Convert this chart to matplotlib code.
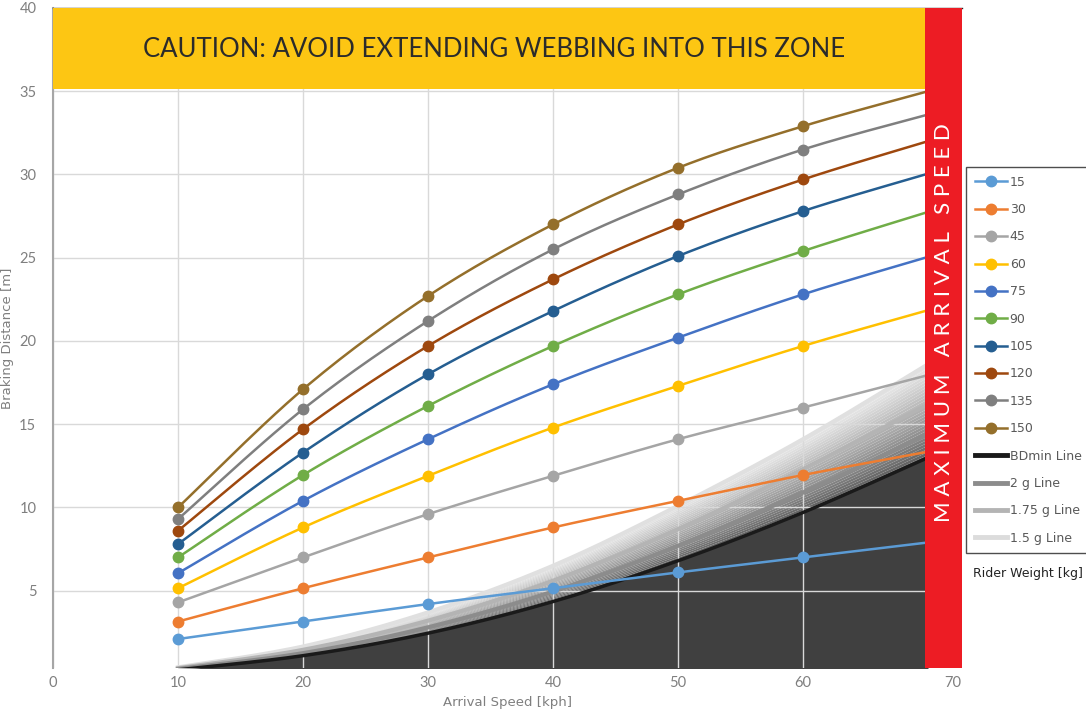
import matplotlib
matplotlib.use('Agg')
import matplotlib.pyplot as plt
import numpy as np

# dane
speeds = [10, 20, 30, 40, 50, 60, 70]
weights = ['15', '30', '45', '60', '75', '90', '105', '120', '135', '150']
w15 = [2.1, 3.15, 4.2, 5.15, 6.1, 7.0, 7.9]
w30 = [3.15, 5.15, 7.0, 8.8, 10.4, 11.95, 13.35]
w45 = [4.3, 7.0, 9.6, 11.9, 14.1, 16.0, 17.95]
w60 = [5.15, 8.8, 11.9, 14.8, 17.3, 19.7, 21.85]
w75 = [6.05, 10.4, 14.1, 17.4, 20.2, 22.8, 25.05]
w90 = [7.0, 11.95, 16.1, 19.7, 22.8, 25.4, 27.75]
w105 = [7.8, 13.3, 18.0, 21.8, 25.1, 27.8, 30.05]
w120 = [8.6, 14.7, 19.7, 23.7, 27.0, 29.7, 32.0]
w135 = [9.3, 15.9, 21.2, 25.5, 28.8, 31.5, 33.6]
w150 = [10.0, 17.1, 22.7, 27.0, 30.4, 32.9, 35.0]
series = [w15, w30, w45, w60, w75, w90, w105, w120, w135, w150]
colors = ['#5B9BD5', '#ED7D31', '#A5A5A5', '#FFC000', '#4472C4',
          '#70AD47', '#255E91', '#9E480E', '#7F7F7F', '#946F2B']

bd_min = [0.25, 1.1, 2.45, 4.35, 6.8, 9.7, 13.0]
line_2g = [0.3, 1.25, 2.8, 4.95, 7.7, 10.9, 14.4]
line_175g = [0.35, 1.45, 3.2, 5.6, 8.7, 12.3, 16.2]
line_15g = [0.4, 1.65, 3.7, 6.5, 10.1, 14.1, 18.6]

max_speed = 69.76
caution_bottom = 35.15


def smooth(x, y, n=25):
    # gladka linia jak w Excelu (krzywe Beziera przez punkty)
    x = np.asarray(x, float)
    y = np.asarray(y, float)
    px = np.concatenate([[x[0]], x, [x[-1]]])
    py = np.concatenate([[y[0]], y, [y[-1]]])
    xs, ys = [], []
    t = np.linspace(0, 1, n)
    for i in range(1, len(px) - 2):
        p0 = np.array([px[i], py[i]])
        p3 = np.array([px[i + 1], py[i + 1]])
        c1 = p0 + (np.array([px[i + 1], py[i + 1]]) - np.array([px[i - 1], py[i - 1]])) / 6
        c2 = p3 - (np.array([px[i + 2], py[i + 2]]) - np.array([px[i], py[i]])) / 6
        pts = ((1 - t) ** 3)[:, None] * p0 + (3 * (1 - t) ** 2 * t)[:, None] * c1 \
            + (3 * (1 - t) * t ** 2)[:, None] * c2 + (t ** 3)[:, None] * p3
        xs.append(pts[:, 0])
        ys.append(pts[:, 1])
    return np.concatenate(xs), np.concatenate(ys)


fig = plt.figure(figsize=(10.86, 7.09), dpi=100)
ax = fig.add_axes([53 / 1086, 41 / 709, 909 / 1086, 660 / 709])
ax.set_xlim(0, 72.72)
ax.set_ylim(0.36, 40)

# ciemny obszar pod linia BDmin
bx, by = smooth(speeds, bd_min)
ax.fill_between(bx, 0, by, color='#404040', lw=0, zorder=1)

# gradient miedzy BDmin a linia 1.5 g
tx, ty = smooth(speeds, line_15g)
n_bands = 30
for k in range(n_bands):
    f0 = k / n_bands
    f1 = (k + 1) / n_bands
    g = 0.33 + 0.57 * f1 ** 0.8
    ax.fill_between(bx, by + (ty - by) * f0, by + (ty - by) * f1,
                    color=(g, g, g), lw=0, zorder=1)

ax.set_axisbelow('line')
ax.grid(True, color='#D9D9D9', lw=1)

ax.plot(*smooth(speeds, line_15g), color='#E0E0E0', lw=3, zorder=2, label='1.5 g Line')
ax.plot(*smooth(speeds, line_175g), color='#B4B4B4', lw=3, zorder=2, label='1.75 g Line')
ax.plot(*smooth(speeds, line_2g), color='#8C8C8C', lw=3, zorder=2, label='2 g Line')
ax.plot(bx, by, color='#1A1A1A', lw=2.5, zorder=2, label='BDmin Line')

handles = []
for vals, c, name in zip(series, colors, weights):
    sx, sy = smooth(speeds, vals)
    ax.plot(sx, sy, color=c, lw=1.8, zorder=3)
    ax.plot(speeds[:-1], vals[:-1], 'o', color=c, ms=7.5, zorder=3)
    h, = ax.plot([], [], '-o', color=c, lw=1.8, ms=7.5, label=name)
    handles.append(h)

for lbl, c in [('BDmin Line', '#1A1A1A'), ('2 g Line', '#8C8C8C'),
               ('1.75 g Line', '#B4B4B4'), ('1.5 g Line', '#DCDCDC')]:
    h, = ax.plot([], [], color=c, lw=3.5, label=lbl)
    handles.append(h)

# strefa ostrzegawcza i maksymalna predkosc
ax.fill_between([0, max_speed], caution_bottom, 40, color='#FDC613', lw=0, zorder=5)
ax.text(35.3, 37.5,
        'CAUTION: AVOID EXTENDING WEBBING INTO THIS ZONE',
        ha='center', va='center', fontsize=18.5, color='#2b2b2b',
        family='Lato', zorder=6)
ax.axvspan(max_speed, 72.72, color='#ED1C24', lw=0, zorder=7)
spaced = '   '.join(' '.join(word) for word in 'MAXIMUM ARRIVAL SPEED'.split())
ax.text((max_speed + 72.72) / 2, 21.1, spaced, rotation=90,
        ha='center', va='center', fontsize=16, color='white',
        family='Lato', zorder=8)

ax.set_xticks([0, 10, 20, 30, 40, 50, 60, 72])
ax.set_xticklabels(['0', '10', '20', '30', '40', '50', '60', '70'])
ax.set_yticks([5, 10, 15, 20, 25, 30, 35, 40])
ax.tick_params(length=0, labelsize=10.5, labelcolor='#7F7F7F', pad=6)
ax.tick_params(axis='y', pad=12)
for lab in ax.get_xticklabels() + ax.get_yticklabels():
    lab.set_family('Lato')

for s in ['right', 'bottom']:
    ax.spines[s].set_visible(False)
ax.spines['left'].set_color('#A6A6A6')
ax.spines['left'].set_linewidth(1.5)
ax.spines['top'].set_color('#222222')
ax.spines['top'].set_linewidth(1)

ax.set_xlabel('Arrival Speed [kph]', fontsize=9.5, color='#7F7F7F', labelpad=4)
ax.set_ylabel('Braking Distance [m]', fontsize=9.5, color='#7F7F7F', labelpad=4)

leg = fig.legend(handles=handles, loc='upper left', bbox_to_anchor=(966 / 1086, 542 / 709),
                 frameon=True, fancybox=False, edgecolor='#222222', fontsize=9,
                 labelspacing=1.15, handlelength=2.6, handletextpad=0.2,
                 borderpad=0.7, borderaxespad=0)
for t in leg.get_texts():
    t.set_color('#595959')
leg.get_frame().set_linewidth(1)

fig.text(1028 / 1086, 1 - 573 / 709, 'Rider Weight [kg]', ha='center', va='center',
         fontsize=9, color='#222222')

fig.savefig('out.png', dpi=100)
